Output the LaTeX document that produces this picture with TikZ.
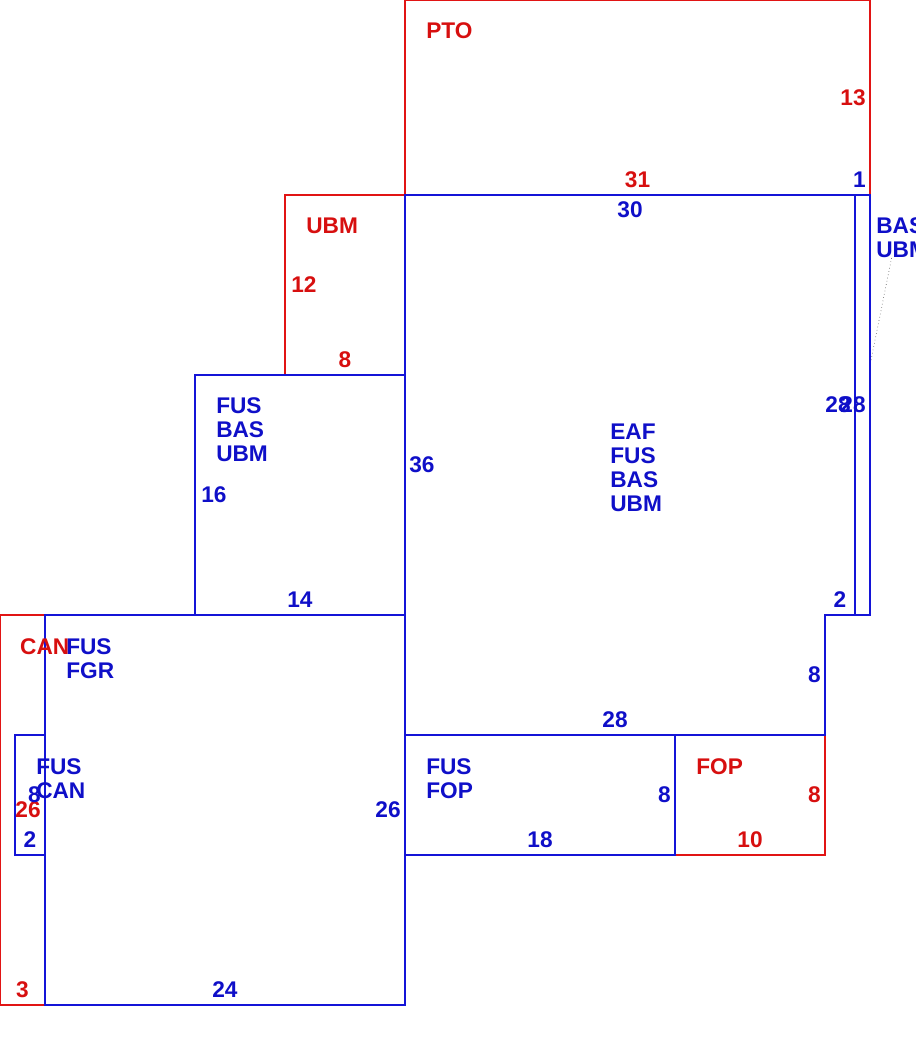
\documentclass[tikz,border=0pt]{standalone}
\usepackage{fontspec}
\setmainfont{Liberation Sans}
\usetikzlibrary{calc}
\definecolor{planred}{RGB}{225,20,20}
\definecolor{planblue}{RGB}{20,20,215}
\definecolor{textred}{RGB}{215,15,15}
\definecolor{textblue}{RGB}{15,15,200}
\newcommand{\planfont}{\fontsize{17}{18}\selectfont\bfseries}

\begin{document}
\begin{tikzpicture}[x=11.25pt, y=-11.25pt,
        redbox/.style={draw=planred, line width=0.8pt},
        bluebox/.style={draw=planblue, line width=0.8pt},
        tag/.style={inner sep=0pt, font=\planfont},
        redtag/.style={tag, text=textred},
        bluetag/.style={tag, text=textblue},
        blockname/.style={anchor=north west, align=left}]
        \useasboundingbox (0,0) rectangle (61,70);

        % Red blocks
        \draw[redbox] (27,0) rectangle (58,13);   % PTO
        \draw[redbox] (19,13) rectangle (27,25);  % UBM
        \draw[redbox] (0,41) rectangle (3,67);    % CAN
        \draw[redbox] (45,49) rectangle (55,57);  % FOP

        % Blue blocks
        \draw[bluebox] (27,13) -- (57,13) -- (57,41) -- (55,41)
            -- (55,49) -- (27,49) -- cycle;       % EAF
        \draw[bluebox] (57,13) rectangle (58,41); % thin strip
        \draw[bluebox] (13,25) rectangle (27,41);
        \draw[bluebox] (3,41) rectangle (27,67);
        \draw[bluebox] (1,49) rectangle (3,57);
        \draw[bluebox] (27,49) rectangle (45,57);

        % Block names
        \node[redtag, blockname] (pto) at (28.4,1.47) {PTO};
        \node[redtag, blockname] (ubm) at (20.4,14.53) {UBM};
        \node[redtag, blockname] (can) at (1.33,42.53) {CAN};
        \node[redtag, blockname] (fop) at (46.4,50.53) {FOP};
        \node[bluetag, blockname] (strip) at (58.4,14.47) {BAS\\UBM};
        \node[bluetag, blockname] (eaf) at (40.67,28.27) {EAF\\FUS\\BAS\\UBM};
        \node[bluetag, blockname] (fbu) at (14.4,26.47) {FUS\\BAS\\UBM};
        \node[bluetag, blockname] (fgr) at (4.4,42.53) {FUS\\FGR};
        \node[bluetag, blockname] (fcan) at (2.4,50.53) {FUS\\CAN};
        \node[bluetag, blockname] (ffop) at (28.4,50.53) {FUS\\FOP};

        % Leader from strip to its name
        \coordinate (stripside) at (58.07,24);
        \coordinate (stripnote) at ($(strip.south west)!0.3!(strip.south east)$);
        \draw[gray!80!black, dotted, line width=0.5pt] (stripside) -- (stripnote);

        % Side lengths, red
        \node[redtag, anchor=east] (pto-h) at (57.73,6.5) {13};
        \node[redtag] (pto-w) at (42.5,12) {31};
        \node[redtag, anchor=west] (ubm-h) at (19.4,19) {12};
        \node[redtag] (ubm-w) at (23,24) {8};
        \node[redtag, anchor=east] (can-h) at (2.73,54) {26};
        \node[redtag] (can-w) at (1.5,66) {3};
        \node[redtag, anchor=east] (fop-h) at (54.73,53) {8};
        \node[redtag] (fop-w) at (50,56) {10};

        % Side lengths, blue
        \node[bluetag, anchor=east] (strip-w) at (57.73,12) {1};
        \node[bluetag, anchor=east] (strip-h) at (57.73,27) {28};
        \node[bluetag] (eaf-top) at (42,14) {30};
        \node[bluetag, anchor=west] (eaf-left) at (27.27,31) {36};
        \node[bluetag, anchor=east] (eaf-right) at (56.73,27) {28};
        \node[bluetag] (eaf-step) at (56,40) {2};
        \node[bluetag, anchor=east] (eaf-low) at (54.73,45) {8};
        \node[bluetag] (eaf-bot) at (41,48) {28};
        \node[bluetag, anchor=west] (fbu-h) at (13.4,33) {16};
        \node[bluetag] (fbu-w) at (20,40) {14};
        \node[bluetag, anchor=east] (fgr-h) at (26.73,54) {26};
        \node[bluetag] (fgr-w) at (15,66) {24};
        \node[bluetag, anchor=east] (fcan-h) at (2.73,53) {8};
        \node[bluetag] (fcan-w) at (2,56) {2};
        \node[bluetag, anchor=east] (ffop-h) at (44.73,53) {8};
        \node[bluetag] (ffop-w) at (36,56) {18};
\end{tikzpicture}
\end{document}
